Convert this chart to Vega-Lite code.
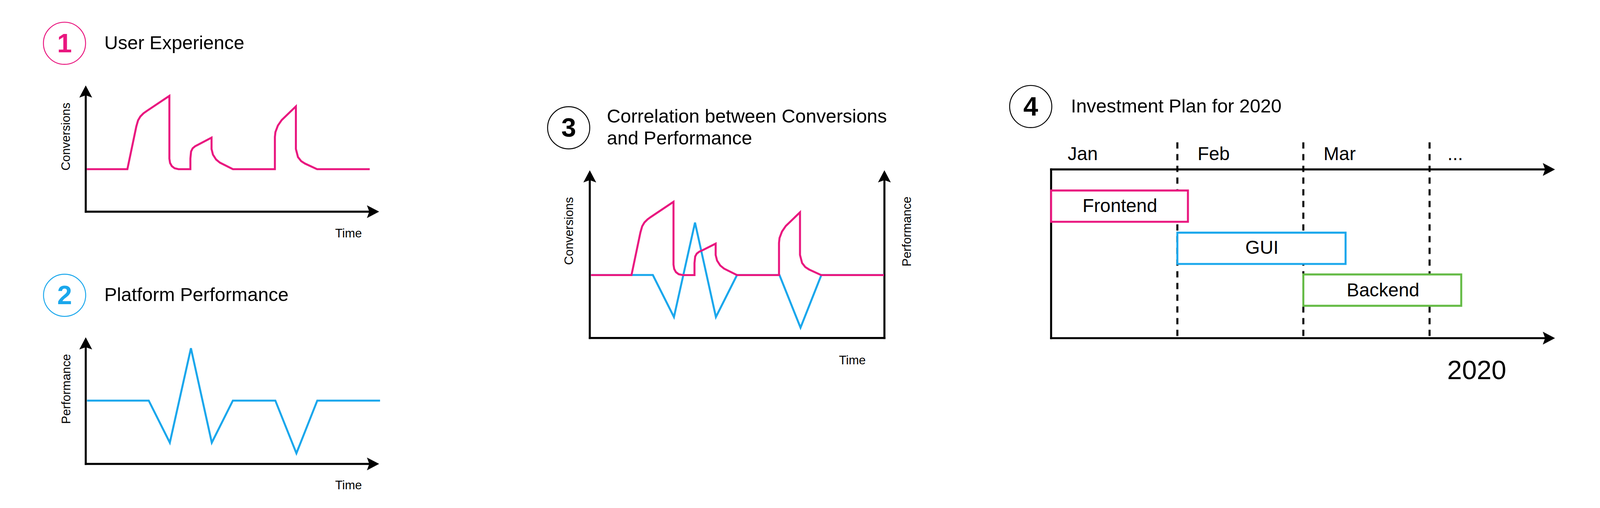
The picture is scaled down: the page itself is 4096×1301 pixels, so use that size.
{
  "$schema": "https://vega.github.io/schema/vega-lite/v6.json",
  "width": 4096,
  "height": 1301,
  "autosize": {"type": "fit", "contains": "padding"},
  "padding": 0,
  "background": "white",
  "config": {"view": {"stroke": null}, "font": "Liberation Sans", "text": {"font": "Liberation Sans"}},
  "datasets": {
    "axes": [
      {"panel": "1", "x": 245, "y": 605, "x2": 245, "y2": 262},
      {"panel": "1", "x": 245, "y": 605, "x2": 1066, "y2": 605},
      {"panel": "2", "x": 245, "y": 1326, "x2": 245, "y2": 982},
      {"panel": "2", "x": 245, "y": 1326, "x2": 1066, "y2": 1326},
      {"panel": "3", "x": 1685.3, "y": 966, "x2": 1685.3, "y2": 504},
      {"panel": "3", "x": 2527.2, "y": 966, "x2": 2527.2, "y2": 504},
      {"panel": "3", "x": 1685.3, "y": 966, "x2": 2527.2, "y2": 966},
      {"panel": "4", "x": 3003.5, "y": 484.3, "x2": 4426, "y2": 484.3},
      {"panel": "4", "x": 3003.5, "y": 966.5, "x2": 4426, "y2": 966.5},
      {"panel": "4", "x": 3003.5, "y": 484.3, "x2": 3003.5, "y2": 966.5}
    ],
    "monthLines": [
      {"x": 3364.3, "y": 406.7, "y2": 966.5},
      {"x": 3724.3, "y": 406.7, "y2": 966.5},
      {"x": 4085, "y": 406.7, "y2": 966.5}
    ],
    "arrows": [
      {"dir": "right", "x": 1066, "y": 605},
      {"dir": "right", "x": 1066, "y": 1326},
      {"dir": "right", "x": 4426, "y": 484.3},
      {"dir": "right", "x": 4426, "y": 966.5},
      {"dir": "up", "x": 245, "y": 261.5},
      {"dir": "up", "x": 245, "y": 981.5},
      {"dir": "up", "x": 1685.3, "y": 504},
      {"dir": "up", "x": 2527.2, "y": 504}
    ],
    "performance": [
      {"panel": "2", "i": 0, "x": 248.5, "y": 1145},
      {"panel": "2", "i": 1, "x": 425, "y": 1145},
      {"panel": "2", "i": 2, "x": 485.3, "y": 1265.2},
      {"panel": "2", "i": 3, "x": 545.6, "y": 995.2},
      {"panel": "2", "i": 4, "x": 605.2, "y": 1265.2},
      {"panel": "2", "i": 5, "x": 665.4, "y": 1145},
      {"panel": "2", "i": 6, "x": 786.8, "y": 1145},
      {"panel": "2", "i": 7, "x": 847, "y": 1295.6},
      {"panel": "2", "i": 8, "x": 906.6, "y": 1145},
      {"panel": "2", "i": 9, "x": 1086, "y": 1145},
      {"panel": "3", "i": 0, "x": 1688.5, "y": 786},
      {"panel": "3", "i": 1, "x": 1865.5, "y": 786},
      {"panel": "3", "i": 2, "x": 1925.8, "y": 906.2},
      {"panel": "3", "i": 3, "x": 1986, "y": 636.2},
      {"panel": "3", "i": 4, "x": 2045.7, "y": 906.2},
      {"panel": "3", "i": 5, "x": 2106, "y": 786},
      {"panel": "3", "i": 6, "x": 2227.3, "y": 786},
      {"panel": "3", "i": 7, "x": 2287.5, "y": 936.6},
      {"panel": "3", "i": 8, "x": 2347, "y": 786},
      {"panel": "3", "i": 9, "x": 2526, "y": 786}
    ],
    "conversions": [
      {"panel": "1", "i": 0, "x": 248, "y": 483.5},
      {"panel": "1", "i": 1, "x": 364, "y": 483.5},
      {"panel": "1", "i": 2, "x": 389.5, "y": 361.5},
      {"panel": "1", "i": 3, "x": 394.5, "y": 344},
      {"panel": "1", "i": 4, "x": 401, "y": 333},
      {"panel": "1", "i": 5, "x": 410, "y": 324},
      {"panel": "1", "i": 6, "x": 419, "y": 317.5},
      {"panel": "1", "i": 7, "x": 484, "y": 274},
      {"panel": "1", "i": 8, "x": 484, "y": 453.5},
      {"panel": "1", "i": 9, "x": 486, "y": 466},
      {"panel": "1", "i": 10, "x": 491, "y": 475},
      {"panel": "1", "i": 11, "x": 499, "y": 481},
      {"panel": "1", "i": 12, "x": 510, "y": 483.5},
      {"panel": "1", "i": 13, "x": 544, "y": 483.5},
      {"panel": "1", "i": 14, "x": 544, "y": 453.5},
      {"panel": "1", "i": 15, "x": 546, "y": 433},
      {"panel": "1", "i": 16, "x": 550.5, "y": 424},
      {"panel": "1", "i": 17, "x": 557.5, "y": 418},
      {"panel": "1", "i": 18, "x": 570, "y": 411.5},
      {"panel": "1", "i": 19, "x": 604.5, "y": 393.5},
      {"panel": "1", "i": 20, "x": 604.5, "y": 426},
      {"panel": "1", "i": 21, "x": 608.5, "y": 442},
      {"panel": "1", "i": 22, "x": 617.5, "y": 456},
      {"panel": "1", "i": 23, "x": 628.5, "y": 465},
      {"panel": "1", "i": 24, "x": 665.5, "y": 483.5},
      {"panel": "1", "i": 25, "x": 785.5, "y": 483.5},
      {"panel": "1", "i": 26, "x": 785.5, "y": 391.5},
      {"panel": "1", "i": 27, "x": 787, "y": 377.5},
      {"panel": "1", "i": 28, "x": 794, "y": 359},
      {"panel": "1", "i": 29, "x": 805, "y": 343},
      {"panel": "1", "i": 30, "x": 845.5, "y": 304},
      {"panel": "1", "i": 31, "x": 845.5, "y": 426},
      {"panel": "1", "i": 32, "x": 851.5, "y": 449},
      {"panel": "1", "i": 33, "x": 860.5, "y": 460.5},
      {"panel": "1", "i": 34, "x": 871.5, "y": 467.5},
      {"panel": "1", "i": 35, "x": 906, "y": 483.5},
      {"panel": "1", "i": 36, "x": 1056.5, "y": 483.5},
      {"panel": "3", "i": 0, "x": 1688.5, "y": 786.3},
      {"panel": "3", "i": 1, "x": 1804.5, "y": 786.3},
      {"panel": "3", "i": 2, "x": 1830, "y": 664.3},
      {"panel": "3", "i": 3, "x": 1835, "y": 646.8},
      {"panel": "3", "i": 4, "x": 1841.5, "y": 635.8},
      {"panel": "3", "i": 5, "x": 1850.5, "y": 626.8},
      {"panel": "3", "i": 6, "x": 1859.5, "y": 620.3},
      {"panel": "3", "i": 7, "x": 1924.5, "y": 576.8},
      {"panel": "3", "i": 8, "x": 1924.5, "y": 756.3},
      {"panel": "3", "i": 9, "x": 1926.5, "y": 768.8},
      {"panel": "3", "i": 10, "x": 1931.5, "y": 777.8},
      {"panel": "3", "i": 11, "x": 1939.5, "y": 783.8},
      {"panel": "3", "i": 12, "x": 1950.5, "y": 786.3},
      {"panel": "3", "i": 13, "x": 1984.5, "y": 786.3},
      {"panel": "3", "i": 14, "x": 1984.5, "y": 752},
      {"panel": "3", "i": 15, "x": 1986.5, "y": 733},
      {"panel": "3", "i": 16, "x": 1991, "y": 724.8},
      {"panel": "3", "i": 17, "x": 1998, "y": 719.5},
      {"panel": "3", "i": 18, "x": 2010.5, "y": 713.8},
      {"panel": "3", "i": 19, "x": 2045, "y": 696.3},
      {"panel": "3", "i": 20, "x": 2045, "y": 728.8},
      {"panel": "3", "i": 21, "x": 2049, "y": 744.8},
      {"panel": "3", "i": 22, "x": 2058, "y": 758.8},
      {"panel": "3", "i": 23, "x": 2069, "y": 767.8},
      {"panel": "3", "i": 24, "x": 2106, "y": 786.3},
      {"panel": "3", "i": 25, "x": 2226, "y": 786.3},
      {"panel": "3", "i": 26, "x": 2226, "y": 694.3},
      {"panel": "3", "i": 27, "x": 2227.5, "y": 680.3},
      {"panel": "3", "i": 28, "x": 2234.5, "y": 661.8},
      {"panel": "3", "i": 29, "x": 2245.5, "y": 645.8},
      {"panel": "3", "i": 30, "x": 2286, "y": 606.8},
      {"panel": "3", "i": 31, "x": 2286, "y": 728.8},
      {"panel": "3", "i": 32, "x": 2292, "y": 751.8},
      {"panel": "3", "i": 33, "x": 2301, "y": 763.3},
      {"panel": "3", "i": 34, "x": 2312, "y": 770.3},
      {"panel": "3", "i": 35, "x": 2346.5, "y": 786.3},
      {"panel": "3", "i": 36, "x": 2526, "y": 786.3}
    ],
    "tasks": [
      {"task": "Frontend", "x": 3003.5, "x2": 3394.5, "y": 544.5, "y2": 634},
      {"task": "GUI", "x": 3364.3, "x2": 3845, "y": 665, "y2": 754.5},
      {"task": "Backend", "x": 3724.3, "x2": 4175.5, "y": 784.5, "y2": 874}
    ],
    "taskLabels": [
      {"task": "Frontend", "x": 3200, "y": 605.7},
      {"task": "GUI", "x": 3606, "y": 725.4},
      {"task": "Backend", "x": 3952, "y": 846.9}
    ],
    "badges": [
      {"n": "1", "x": 184.3, "y": 123.7, "by": 150},
      {"n": "2", "x": 184.6, "y": 844, "by": 869.8},
      {"n": "3", "x": 1625, "y": 365.2, "by": 390.2},
      {"n": "4", "x": 2945.3, "y": 304.5, "by": 330.6}
    ],
    "titles": [
      {"t": "User Experience", "x": 298, "y": 140.4},
      {"t": "Platform Performance", "x": 298, "y": 860.4},
      {"t": "Correlation between Conversions", "x": 1734, "y": 350.5},
      {"t": "and Performance", "x": 1734, "y": 413},
      {"t": "Investment Plan for 2020", "x": 3060, "y": 321.5}
    ],
    "timeLabels": [
      {"t": "Time", "x": 996, "y": 679},
      {"t": "Time", "x": 996, "y": 1398.6},
      {"t": "Time", "x": 2435.5, "y": 1040.8}
    ],
    "valueLabels": [
      {"t": "Conversions", "x": 189.5, "y": 390.5},
      {"t": "Performance", "x": 190.5, "y": 1111.7},
      {"t": "Conversions", "x": 1627.7, "y": 660.3},
      {"t": "Performance", "x": 2592.5, "y": 661.7}
    ],
    "months": [
      {"m": "Jan", "x": 3051, "y": 458.1},
      {"m": "Feb", "x": 3422, "y": 458.1},
      {"m": "Mar", "x": 3782, "y": 458.1},
      {"m": "...", "x": 4136, "y": 458.1}
    ],
    "year": [
      {"t": "2020", "x": 4219.8, "y": 1083.8}
    ]
  },
  "encoding": {
    "x": {"field": "x", "type": "quantitative", "scale": {"domain": [0, 4572], "nice": false, "zero": false}, "axis": null},
    "y": {"field": "y", "type": "quantitative", "scale": {"domain": [0, 1452], "reverse": true, "nice": false, "zero": false}, "axis": null}
  },
  "layer": [
    {
      "data": {"name": "monthLines"},
      "mark": {"type": "rule", "color": "#000000", "strokeWidth": 5.2, "strokeDash": [16, 14], "strokeCap": "butt"},
      "encoding": {"y2": {"field": "y2"}}
    },
    {
      "data": {"name": "axes"},
      "mark": {"type": "rule", "color": "#000000", "strokeWidth": 5.2, "strokeCap": "square"},
      "encoding": {"x2": {"field": "x2"}, "y2": {"field": "y2"}}
    },
    {
      "data": {"name": "arrows"},
      "mark": {"type": "point", "filled": true, "size": 981, "color": "#000000", "strokeWidth": 0, "opacity": 1},
      "encoding": {
        "shape": {"field": "dir", "type": "nominal", "scale": {"domain": ["right", "up"], "range": ["M1,0L-1,-1.05L-0.62,0L-1,1.05Z", "M0,-1L-1.05,1L0,0.62L1.05,1Z"]}, "legend": null}
      }
    },
    {
      "data": {"name": "performance"},
      "mark": {"type": "line", "color": "#1AA7EC", "strokeWidth": 5.1, "strokeCap": "butt"},
      "encoding": {"detail": {"field": "panel"}, "order": {"field": "i", "type": "quantitative"}}
    },
    {
      "data": {"name": "conversions"},
      "mark": {"type": "line", "color": "#E9177F", "strokeWidth": 5.1, "strokeCap": "butt"},
      "encoding": {"detail": {"field": "panel"}, "order": {"field": "i", "type": "quantitative"}}
    },
    {
      "data": {"name": "tasks"},
      "mark": {"type": "rect", "fill": "#FFFFFF", "strokeWidth": 5.1},
      "encoding": {
        "x2": {"field": "x2"},
        "y2": {"field": "y2"},
        "stroke": {"field": "task", "type": "nominal", "scale": {"domain": ["Frontend", "GUI", "Backend"], "range": ["#E9177F", "#1AA7EC", "#65BB46"]}, "legend": null}
      }
    },
    {
      "data": {"name": "taskLabels"},
      "mark": {"type": "text", "fontSize": 47.8, "align": "center", "baseline": "alphabetic", "color": "#000000"},
      "encoding": {"text": {"field": "task"}}
    },
    {
      "data": {"name": "badges"},
      "mark": {"type": "point", "shape": "circle", "filled": false, "size": 11650, "strokeWidth": 2.4, "opacity": 1},
      "encoding": {
        "color": {"field": "n", "type": "nominal", "scale": {"domain": ["1", "2", "3", "4"], "range": ["#E9177F", "#1AA7EC", "#000000", "#000000"]}, "legend": null}
      }
    },
    {
      "data": {"name": "badges"},
      "mark": {"type": "text", "fontSize": 68, "fontWeight": "bold", "align": "center", "baseline": "alphabetic"},
      "encoding": {
        "y": {"field": "by", "type": "quantitative"},
        "text": {"field": "n"},
        "color": {"field": "n", "type": "nominal", "scale": {"domain": ["1", "2", "3", "4"], "range": ["#E9177F", "#1AA7EC", "#000000", "#000000"]}, "legend": null}
      }
    },
    {
      "data": {"name": "titles"},
      "mark": {"type": "text", "fontSize": 48.5, "align": "left", "baseline": "alphabetic", "color": "#000000"},
      "encoding": {"text": {"field": "t"}}
    },
    {
      "data": {"name": "timeLabels"},
      "mark": {"type": "text", "fontSize": 31.3, "align": "center", "baseline": "alphabetic", "color": "#000000"},
      "encoding": {"text": {"field": "t"}}
    },
    {
      "data": {"name": "valueLabels"},
      "mark": {"type": "text", "fontSize": 31.3, "align": "center", "baseline": "middle", "angle": 270, "color": "#000000"},
      "encoding": {"text": {"field": "t"}}
    },
    {
      "data": {"name": "months"},
      "mark": {"type": "text", "fontSize": 47.8, "align": "left", "baseline": "alphabetic", "color": "#000000"},
      "encoding": {"text": {"field": "m"}}
    },
    {
      "data": {"name": "year"},
      "mark": {"type": "text", "fontSize": 68, "align": "center", "baseline": "alphabetic", "color": "#000000"},
      "encoding": {"text": {"field": "t"}}
    }
  ],
  "resolve": {"scale": {"color": "independent", "stroke": "independent", "shape": "independent"}}
}
